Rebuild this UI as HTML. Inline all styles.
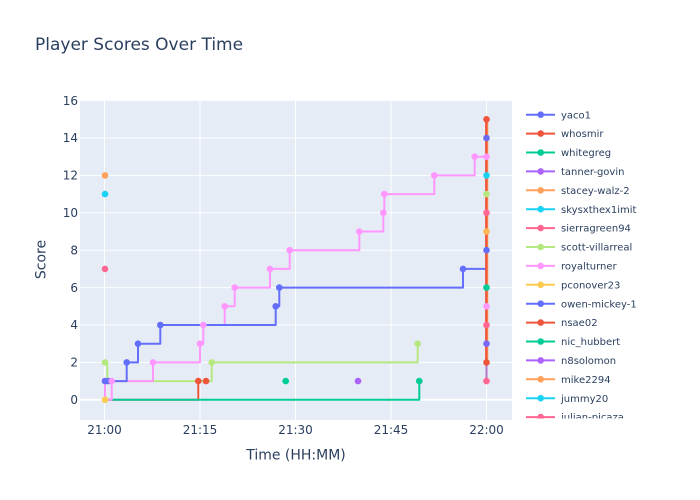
<!DOCTYPE html>
<html><head><meta charset="utf-8"><style>
html,body{margin:0;padding:0;background:#fff;}
svg{display:block;font-family:"DejaVu Sans","Liberation Sans",sans-serif;}
</style></head><body>
<svg width="700" height="500" viewBox="0 0 700 500" xmlns="http://www.w3.org/2000/svg">
<rect x="0" y="0" width="700" height="500" fill="#fff"/>
<rect x="80" y="100" width="432" height="320" fill="#E5ECF6"/>
<g stroke="#fff" stroke-width="1">
<line x1="80" x2="512" y1="100.6" y2="100.6"/>
<line x1="80" x2="512" y1="138" y2="138"/>
<line x1="80" x2="512" y1="175.4" y2="175.4"/>
<line x1="80" x2="512" y1="212.8" y2="212.8"/>
<line x1="80" x2="512" y1="250.2" y2="250.2"/>
<line x1="80" x2="512" y1="287.6" y2="287.6"/>
<line x1="80" x2="512" y1="325" y2="325"/>
<line x1="80" x2="512" y1="362.4" y2="362.4"/>
<line x1="104.5" x2="104.5" y1="100" y2="420"/>
<line x1="200" x2="200" y1="100" y2="420"/>
<line x1="295.5" x2="295.5" y1="100" y2="420"/>
<line x1="391" x2="391" y1="100" y2="420"/>
<line x1="486.5" x2="486.5" y1="100" y2="420"/>
</g>
<line x1="80" x2="512" y1="399.8" y2="399.8" stroke="#fff" stroke-width="2"/>

<g fill="none" stroke-width="2" stroke-linejoin="round">
<!-- red -->
<path d="M105,399.8 H198.3 V381.1 H206" stroke="#EF553B"/>
<!-- green 0 line -->
<path d="M107,399.8 H419.3 V381.1" stroke="#00cc96"/>
<!-- scott -->
<path d="M105,362.4 H107.3 V381.1 H211.7 V362.4 H417.7 V343.7" stroke="#B6E880"/>
<!-- royalturner -->
<path d="M105,381.1 V399.8 H111.7 V381.1 H153 V362.4 H200 V343.7 H203.3 V325 H224.7 V306.3 H234.7 V287.6 H270 V268.9 H289.7 V250.2 H359.3 V231.5 H383.3 V212.8 H384.3 V194.1 H434.3 V175.4 H474.7 V156.7 H486.5" stroke="#FF97FF"/>
<!-- blue -->
<path d="M105,381.1 H126.7 V362.4 H138 V343.7 H160.3 V325 H275.7 V306.3 H279.3 V287.6 H463 V268.9 H486.5 V250.2" stroke="#636efa"/>
<!-- 22:00 vertical -->
<path d="M486.5,381.1 V362.4" stroke="#b575c6"/>
<path d="M487.3,362.4 V119.3" stroke="#FFA15A" stroke-width="2"/>
<path d="M486.3,362.4 V119.3" stroke="#EF553B" stroke-width="2.4"/>
</g>

<g>
<circle cx="105" cy="175.4" r="3.3" fill="#FFA15A"/>
<circle cx="105" cy="194.1" r="3.3" fill="#19d3f3"/>
<circle cx="105" cy="268.9" r="3.3" fill="#FF6692"/>
<circle cx="105" cy="362.4" r="3.3" fill="#B6E880"/>
<circle cx="105" cy="381.1" r="3.3" fill="#FF97FF"/>
<circle cx="105" cy="381.1" r="3.3" fill="#636efa"/>
<circle cx="108.3" cy="381.1" r="3.3" fill="#636efa"/>
<circle cx="111.7" cy="381.1" r="3.3" fill="#FF97FF"/>
<circle cx="105" cy="399.8" r="3.3" fill="#FECB52"/>
<circle cx="126.7" cy="362.4" r="3.3" fill="#636efa"/>
<circle cx="138" cy="343.7" r="3.3" fill="#636efa"/>
<circle cx="160.3" cy="325" r="3.3" fill="#636efa"/>
<circle cx="275.7" cy="306.3" r="3.3" fill="#636efa"/>
<circle cx="279.3" cy="287.6" r="3.3" fill="#636efa"/>
<circle cx="463" cy="268.9" r="3.3" fill="#636efa"/>
<circle cx="153" cy="362.4" r="3.3" fill="#FF97FF"/>
<circle cx="200" cy="343.7" r="3.3" fill="#FF97FF"/>
<circle cx="203.3" cy="325" r="3.3" fill="#FF97FF"/>
<circle cx="224.7" cy="306.3" r="3.3" fill="#FF97FF"/>
<circle cx="234.7" cy="287.6" r="3.3" fill="#FF97FF"/>
<circle cx="270" cy="268.9" r="3.3" fill="#FF97FF"/>
<circle cx="289.7" cy="250.2" r="3.3" fill="#FF97FF"/>
<circle cx="359.3" cy="231.5" r="3.3" fill="#FF97FF"/>
<circle cx="383.3" cy="212.8" r="3.3" fill="#FF97FF"/>
<circle cx="384.3" cy="194.1" r="3.3" fill="#FF97FF"/>
<circle cx="434.3" cy="175.4" r="3.3" fill="#FF97FF"/>
<circle cx="474.7" cy="156.7" r="3.3" fill="#FF97FF"/>
<circle cx="211.7" cy="362.4" r="3.3" fill="#B6E880"/>
<circle cx="417.7" cy="343.7" r="3.3" fill="#B6E880"/>
<circle cx="198.3" cy="381.1" r="3.3" fill="#EF553B"/>
<circle cx="206" cy="381.1" r="3.3" fill="#EF553B"/>
<circle cx="285.7" cy="381.1" r="3.3" fill="#00cc96"/>
<circle cx="358" cy="381.1" r="3.3" fill="#ab63fa"/>
<circle cx="419.3" cy="381.1" r="3.3" fill="#00cc96"/>
<circle cx="486.5" cy="119.3" r="3.3" fill="#EF553B"/>
<circle cx="486.5" cy="138" r="3.3" fill="#6a6af5"/>
<circle cx="486.5" cy="156.7" r="3.3" fill="#FF97FF"/>
<circle cx="486.5" cy="175.4" r="3.3" fill="#19d3f3"/>
<circle cx="486.5" cy="194.1" r="3.3" fill="#B6E880"/>
<circle cx="486.5" cy="212.8" r="3.3" fill="#FF6692"/>
<circle cx="486.5" cy="231.5" r="3.3" fill="#FDB655"/>
<circle cx="486.5" cy="250.2" r="3.3" fill="#636efa"/>
<circle cx="486.5" cy="287.6" r="3.3" fill="#00cc96"/>
<circle cx="486.5" cy="306.3" r="3.3" fill="#FF97FF"/>
<circle cx="486.5" cy="325" r="3.3" fill="#FF6692"/>
<circle cx="486.5" cy="343.7" r="3.3" fill="#7a68f8"/>
<circle cx="486.5" cy="362.4" r="3.3" fill="#EF553B"/>
<circle cx="486.5" cy="381.1" r="3.3" fill="#FF6692"/>
</g>

<g fill="#2a3f5f" font-size="12" text-anchor="end">
<text x="78" y="104.8">16</text>
<text x="78" y="142.2">14</text>
<text x="78" y="179.6">12</text>
<text x="78" y="217">10</text>
<text x="78" y="254.4">8</text>
<text x="78" y="291.8">6</text>
<text x="78" y="329.2">4</text>
<text x="78" y="366.6">2</text>
<text x="78" y="404">0</text>
</g>
<g fill="#2a3f5f" font-size="12" text-anchor="middle">
<text x="104.5" y="434">21:00</text>
<text x="200" y="434">21:15</text>
<text x="295.5" y="434">21:30</text>
<text x="391" y="434">21:45</text>
<text x="486.5" y="434">22:00</text>
</g>
<text x="296" y="459.5" fill="#2a3f5f" font-size="14" text-anchor="middle">Time (HH:MM)</text>
<text transform="translate(45.5,259.5) rotate(-90)" fill="#2a3f5f" font-size="14" text-anchor="middle">Score</text>
<text x="35" y="50" fill="#2a3f5f" font-size="17">Player Scores Over Time</text>

<defs><clipPath id="lc"><rect x="515" y="100" width="185" height="318.5"/></clipPath></defs>
<g clip-path="url(#lc)" font-size="10" fill="#2a3f5f">
<g transform="translate(0,114.7)"><line x1="526" x2="555" y1="0" y2="0" stroke="#636efa" stroke-width="2"/><circle cx="540.7" cy="0" r="3.3" fill="#636efa"/><text x="561" y="3.6">yaco1</text></g>
<g transform="translate(0,133.6)"><line x1="526" x2="555" y1="0" y2="0" stroke="#EF553B" stroke-width="2"/><circle cx="540.7" cy="0" r="3.3" fill="#EF553B"/><text x="561" y="3.6">whosmir</text></g>
<g transform="translate(0,152.5)"><line x1="526" x2="555" y1="0" y2="0" stroke="#00cc96" stroke-width="2"/><circle cx="540.7" cy="0" r="3.3" fill="#00cc96"/><text x="561" y="3.6">whitegreg</text></g>
<g transform="translate(0,171.4)"><line x1="526" x2="555" y1="0" y2="0" stroke="#ab63fa" stroke-width="2"/><circle cx="540.7" cy="0" r="3.3" fill="#ab63fa"/><text x="561" y="3.6">tanner-govin</text></g>
<g transform="translate(0,190.3)"><line x1="526" x2="555" y1="0" y2="0" stroke="#FFA15A" stroke-width="2"/><circle cx="540.7" cy="0" r="3.3" fill="#FFA15A"/><text x="561" y="3.6">stacey-walz-2</text></g>
<g transform="translate(0,209.2)"><line x1="526" x2="555" y1="0" y2="0" stroke="#19d3f3" stroke-width="2"/><circle cx="540.7" cy="0" r="3.3" fill="#19d3f3"/><text x="561" y="3.6">skysxthex1imit</text></g>
<g transform="translate(0,228.1)"><line x1="526" x2="555" y1="0" y2="0" stroke="#FF6692" stroke-width="2"/><circle cx="540.7" cy="0" r="3.3" fill="#FF6692"/><text x="561" y="3.6">sierragreen94</text></g>
<g transform="translate(0,247)"><line x1="526" x2="555" y1="0" y2="0" stroke="#B6E880" stroke-width="2"/><circle cx="540.7" cy="0" r="3.3" fill="#B6E880"/><text x="561" y="3.6">scott-villarreal</text></g>
<g transform="translate(0,265.9)"><line x1="526" x2="555" y1="0" y2="0" stroke="#FF97FF" stroke-width="2"/><circle cx="540.7" cy="0" r="3.3" fill="#FF97FF"/><text x="561" y="3.6">royalturner</text></g>
<g transform="translate(0,284.8)"><line x1="526" x2="555" y1="0" y2="0" stroke="#FECB52" stroke-width="2"/><circle cx="540.7" cy="0" r="3.3" fill="#FECB52"/><text x="561" y="3.6">pconover23</text></g>
<g transform="translate(0,303.7)"><line x1="526" x2="555" y1="0" y2="0" stroke="#636efa" stroke-width="2"/><circle cx="540.7" cy="0" r="3.3" fill="#636efa"/><text x="561" y="3.6">owen-mickey-1</text></g>
<g transform="translate(0,322.6)"><line x1="526" x2="555" y1="0" y2="0" stroke="#EF553B" stroke-width="2"/><circle cx="540.7" cy="0" r="3.3" fill="#EF553B"/><text x="561" y="3.6">nsae02</text></g>
<g transform="translate(0,341.5)"><line x1="526" x2="555" y1="0" y2="0" stroke="#00cc96" stroke-width="2"/><circle cx="540.7" cy="0" r="3.3" fill="#00cc96"/><text x="561" y="3.6">nic_hubbert</text></g>
<g transform="translate(0,360.4)"><line x1="526" x2="555" y1="0" y2="0" stroke="#ab63fa" stroke-width="2"/><circle cx="540.7" cy="0" r="3.3" fill="#ab63fa"/><text x="561" y="3.6">n8solomon</text></g>
<g transform="translate(0,379.3)"><line x1="526" x2="555" y1="0" y2="0" stroke="#FFA15A" stroke-width="2"/><circle cx="540.7" cy="0" r="3.3" fill="#FFA15A"/><text x="561" y="3.6">mike2294</text></g>
<g transform="translate(0,398.2)"><line x1="526" x2="555" y1="0" y2="0" stroke="#19d3f3" stroke-width="2"/><circle cx="540.7" cy="0" r="3.3" fill="#19d3f3"/><text x="561" y="3.6">jummy20</text></g>
<g transform="translate(0,417.1)"><line x1="526" x2="555" y1="0" y2="0" stroke="#FF6692" stroke-width="2"/><circle cx="540.7" cy="0" r="3.3" fill="#FF6692"/><text x="561" y="3.6">julian-picaza</text></g>
</g>
</svg>
</body></html>
